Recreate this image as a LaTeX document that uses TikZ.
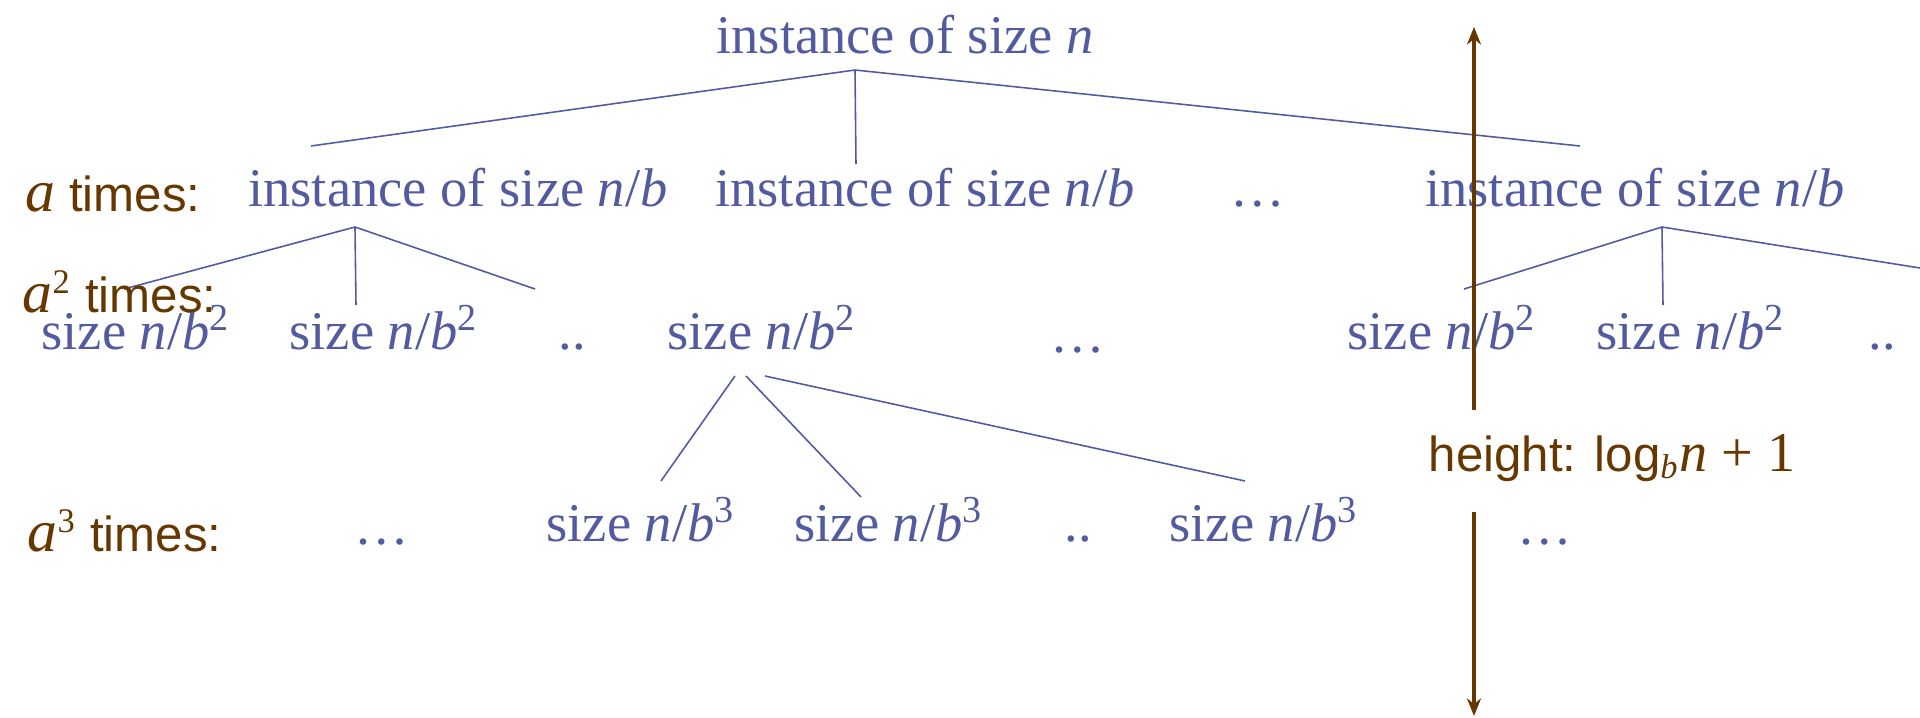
\documentclass[tikz,border=0pt]{standalone}
\usepackage{fontspec}
\setmainfont{Liberation Serif}
\setsansfont{Liberation Sans}
\usetikzlibrary{arrows.meta}
\definecolor{treeblue}{RGB}{82,90,160}
\definecolor{levelbrown}{RGB}{102,56,0}
\tikzset{
  inst/.style={text=treeblue,font=\fontsize{15.5}{18}\selectfont,anchor=base,inner sep=0pt},
  lvl/.style={text=levelbrown,font=\sffamily\fontsize{14}{16}\selectfont,anchor=base west,inner sep=0pt},
  branch/.style={treeblue,line width=0.45pt},
  hgt/.style={levelbrown,line width=0.9pt,-{Stealth[length=5pt,width=4pt]}}
}
\newcommand{\sizenb}[1]{size \textit{n}/\textit{b}\textsuperscript{#1}}
\newcommand{\ita}{{\rmfamily\itshape\fontsize{17}{20}\selectfont a}}
\begin{document}
\begin{tikzpicture}[x=0.01cm,y=-0.01cm]
\useasboundingbox (0,0) rectangle (1920,718);
% root and first level
\node[inst] (root) at (905,54) {instance of size \textit{n}};
\node[inst] (i1) at (458,206) {instance of size \textit{n}/\textit{b}};
\node[inst] (i2) at (925,206) {instance of size \textit{n}/\textit{b}};
\node[inst] (idots) at (1258,206) {\textellipsis};
\node[inst] (i4) at (1635,206) {instance of size \textit{n}/\textit{b}};
\coordinate (r) at (855,70);
\coordinate (r1) at (311,146);
\coordinate (r2) at (856,164);
\coordinate (r3) at (1580,146);
\draw[branch] (r1) -- (r) -- (r3);
\draw[branch] (r) -- (r2);
% second level
\node[inst] (s1) at (136,349) {\sizenb{2}};
\node[inst] (s2) at (384,349) {\sizenb{2}};
\node[inst] (sdots1) at (572,349) {..};
\node[inst] (s3) at (762,349) {\sizenb{2}};
\node[inst] (sdots2) at (1078,352) {\textellipsis};
\node[inst] (s4) at (1442,349) {\sizenb{2}};
\node[inst] (s5) at (1691,349) {\sizenb{2}};
\node[inst] (sdots3) at (1882,349) {..};
\coordinate (pa) at (355,227);
\coordinate (pa1) at (124,289);
\coordinate (pa2) at (356,305);
\coordinate (pa3) at (535,289);
\draw[branch] (pa1) -- (pa) -- (pa3);
\draw[branch] (pa) -- (pa2);
\coordinate (pb) at (1662,227);
\coordinate (pb1) at (1464,289);
\coordinate (pb2) at (1663,305);
\coordinate (pb3) at (1920,268);
\draw[branch] (pb1) -- (pb) -- (pb3);
\draw[branch] (pb) -- (pb2);
% third level
\node[inst] (t0) at (382,544) {\textellipsis};
\node[inst] (t1) at (641,541) {\sizenb{3}};
\node[inst] (t2) at (889,541) {\sizenb{3}};
\node[inst] (tdots1) at (1078,541) {..};
\node[inst] (t3) at (1264,541) {\sizenb{3}};
\node[inst] (tdots2) at (1545,544) {\textellipsis};
\coordinate (pc1) at (735,376);
\coordinate (pc2) at (746,376);
\coordinate (pc3) at (765,376);
\coordinate (pc1e) at (661,481);
\coordinate (pc2e) at (861,497);
\coordinate (pc3e) at (1245,481);
\draw[branch] (pc1) -- (pc1e);
\draw[branch] (pc2) -- (pc2e);
\draw[branch] (pc3) -- (pc3e);
% level counts
\node[lvl] (cnt1) at (25,212) {\ita\ times:};
\node[lvl] (cnt2) at (22,312) {\ita\textsuperscript{\rmfamily 2} times:};
\node[lvl] (cnt3) at (27,551) {\ita\textsuperscript{\rmfamily 3} times:};
% height
\node[lvl] (height) at (1428,471) {height: log\textsubscript{\rmfamily\itshape b}{\rmfamily\fontsize{16}{18}\selectfont\textit{n} + 1}};
\coordinate (hup) at (1474,410);
\coordinate (htop) at (1474,27);
\coordinate (hdown) at (1474,512);
\coordinate (hbot) at (1474,716);
\draw[hgt] (hup) -- (htop);
\draw[hgt] (hdown) -- (hbot);
\end{tikzpicture}
\end{document}
